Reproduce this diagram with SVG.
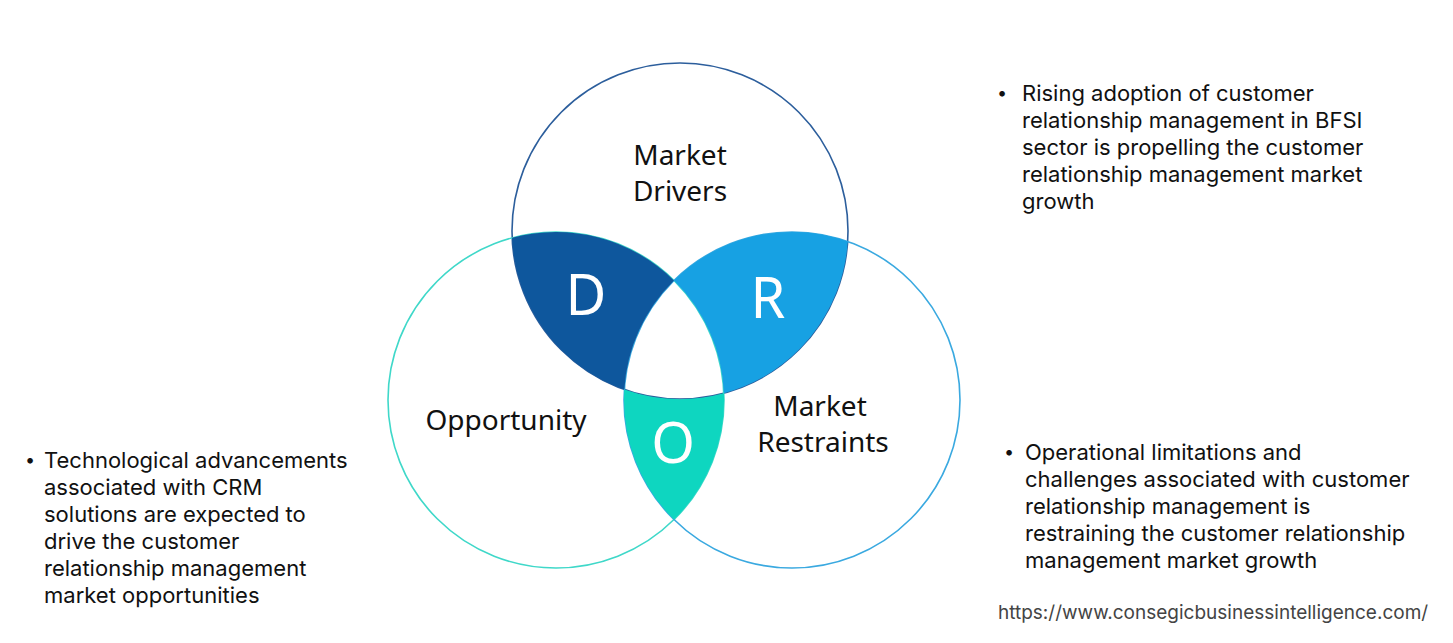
<svg xmlns="http://www.w3.org/2000/svg" width="1453" height="643" viewBox="0 0 1453 643">
<style>
.ring{fill:none;stroke-width:1.6}
.lbl{font-family:"Noto Sans","Open Sans",sans-serif;font-size:28px;fill:#111;text-anchor:middle}
.big{font-family:"Noto Sans","Open Sans",sans-serif;font-size:56px;fill:#fff;text-anchor:middle}
.txt{font-family:Inter,"Liberation Sans",sans-serif;font-size:22px;fill:#111}
.bul{font-family:Inter,"Liberation Sans",sans-serif;font-size:18px;fill:#111}
.url{font-family:Inter,"Liberation Sans",sans-serif;font-size:19px;fill:#444}
</style>
<rect width="1453" height="643" fill="#fff"/>
<g id="circles">
<circle id="c-drivers" class="ring" cx="680" cy="231" r="168" stroke="#2C5E9C"/>
<circle id="c-opportunity" class="ring" cx="556" cy="400" r="168" stroke="#3FD8C9"/>
<circle id="c-restraints" class="ring" cx="792" cy="400" r="168" stroke="#3AA9E0"/>
</g>
<g id="node-D">
<path d="M512.1,237.8 A168,168 0 0 1 674,280.4 A168,168 0 0 0 624.3,389.5 A168,168 0 0 1 512.1,237.8 Z" fill="#0E579D"/>
<text class="big" x="586" y="315">D</text>
</g>
<g id="node-R">
<path d="M847.7,241.5 A168,168 0 0 0 674,280.4 A168,168 0 0 1 723.9,393.2 A168,168 0 0 0 847.7,241.5 Z" fill="#17A1E3"/>
<text class="big" x="768" y="318">R</text>
</g>
<g id="node-O">
<path d="M624.3,389.5 A168,168 0 0 0 723.9,393.2 A168,168 0 0 1 674,519.6 A168,168 0 0 1 624.3,389.5 Z" fill="#0ED6C0"/>
<text class="big" x="673" y="463">O</text>
</g>
<g id="label-drivers">
<text class="lbl" x="680" y="165">Market</text>
<text class="lbl" x="680" y="201">Drivers</text>
</g>
<g id="label-opportunity">
<text class="lbl" x="506" y="430">Opportunity</text>
</g>
<g id="label-restraints">
<text class="lbl" x="820" y="416">Market</text>
<text class="lbl" x="823" y="452">Restraints</text>
</g>
<g id="text-drivers">
<text class="bul" x="997" y="99">•</text>
<text class="txt" x="1022" y="101">Rising adoption of customer</text>
<text class="txt" x="1022" y="128">relationship management in BFSI</text>
<text class="txt" x="1022" y="155">sector is propelling the customer</text>
<text class="txt" x="1022" y="182">relationship management market</text>
<text class="txt" x="1022" y="209">growth</text>
</g>
<g id="text-restraints">
<text class="bul" x="1004" y="458">•</text>
<text class="txt" x="1025" y="460">Operational limitations and</text>
<text class="txt" x="1025" y="487">challenges associated with customer</text>
<text class="txt" x="1025" y="514">relationship management is</text>
<text class="txt" x="1025" y="541">restraining the customer relationship</text>
<text class="txt" x="1025" y="568">management market growth</text>
</g>
<g id="text-opportunity">
<text class="bul" x="25" y="466">•</text>
<text class="txt" x="44" y="468">Technological advancements</text>
<text class="txt" x="44" y="495">associated with CRM</text>
<text class="txt" x="44" y="522">solutions are expected to</text>
<text class="txt" x="44" y="549">drive the customer</text>
<text class="txt" x="44" y="576">relationship management</text>
<text class="txt" x="44" y="603">market opportunities</text>
</g>
<text class="url" x="998" y="619">https://www.consegicbusinessintelligence.com/</text>
</svg>
